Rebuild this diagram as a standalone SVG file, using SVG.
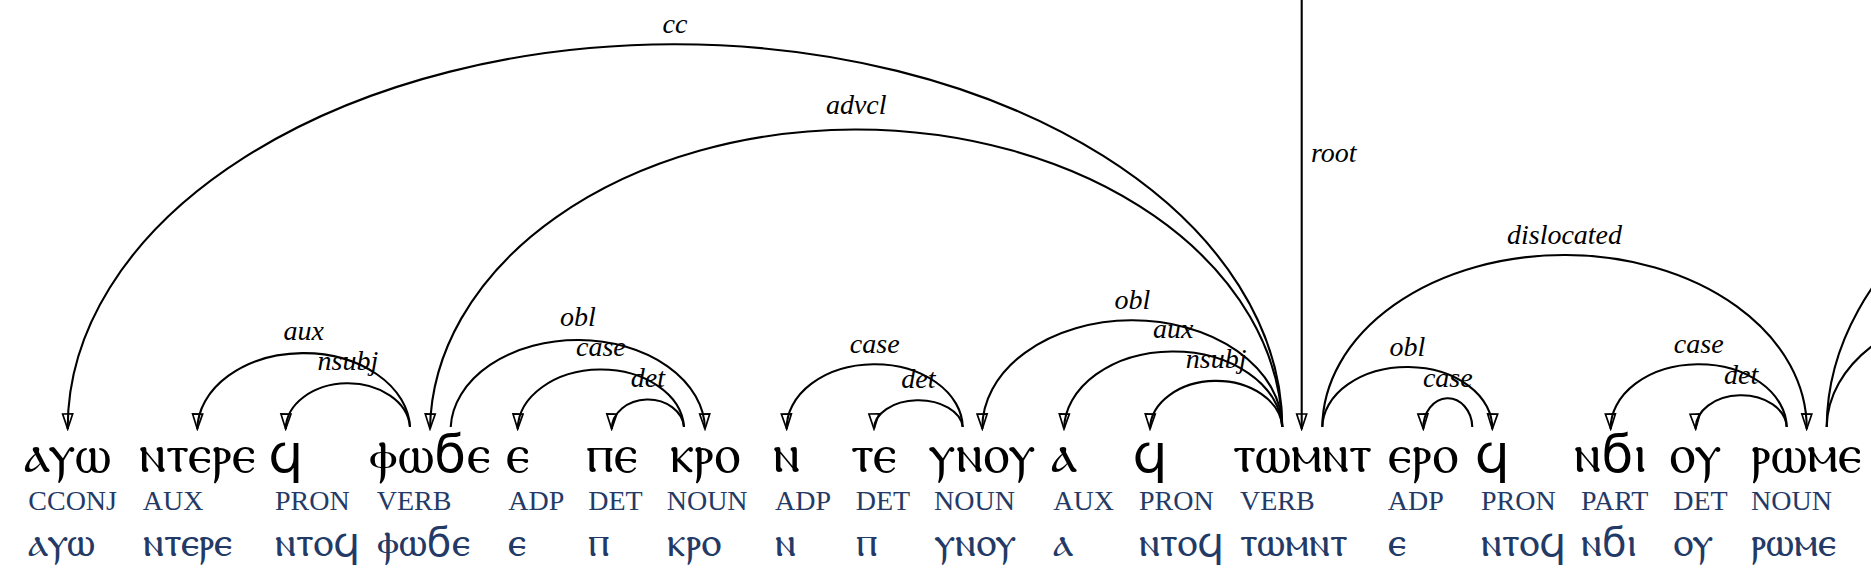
<svg xmlns="http://www.w3.org/2000/svg" width="1871" height="584" viewBox="0 0 1871 584">
<style>
.word{font-family:"DejaVu Sans","Noto Sans",sans-serif;font-size:53px;fill:#000;text-anchor:middle}
.pos{font-family:"Liberation Serif",serif;font-size:28px;fill:#243a66}
.lemma{font-family:"DejaVu Sans","Noto Sans",sans-serif;font-size:41px;fill:#243a66}
.arc{fill:none;stroke:#000;stroke-width:2.1;marker-end:url(#ah)}
.lbl{font-family:"Liberation Serif",serif;font-style:italic;font-size:28px;fill:#000;text-anchor:middle}
</style>
<defs>
<marker id="ah" markerUnits="userSpaceOnUse" viewBox="-17 -8 19 16" refX="0" refY="0" markerWidth="19" markerHeight="16" orient="auto">
<path d="M-15,-5 L0,0 L-15,5 Z" fill="none" stroke="#000" stroke-width="1.7" stroke-linejoin="miter"/>
</marker>
</defs>
<rect width="1871" height="584" fill="#fff"/>
<g id="connectors">
<g id="e-cc"><path class="arc" d="M1282.3 427 A607.3 383.7 0 0 0 67.7 429"/><text class="lbl" x="675" y="33">cc</text></g>
<g id="e-advcl"><path class="arc" d="M1282.3 427 A426.2 303 0 0 0 430 429"/><text class="lbl" x="856.2" y="113.5">advcl</text></g>
<g id="e-aux1"><path class="arc" d="M410 427 A106.4 77 0 0 0 197.3 429"/><text class="lbl" x="303.7" y="339.5">aux</text></g>
<g id="e-nsubj1"><path class="arc" d="M410 427 A62.2 46.3 0 0 0 285.7 429"/><text class="lbl" x="347.9" y="370">nsubj</text></g>
<g id="e-obl1"><path class="arc" d="M450.7 427 A127.2 90.3 0 0 1 705 429"/><text class="lbl" x="577.9" y="326">obl</text></g>
<g id="e-case1"><path class="arc" d="M684 427 A83.2 60.3 0 0 0 517.7 429"/><text class="lbl" x="600.9" y="356">case</text></g>
<g id="e-det1"><path class="arc" d="M684 427 A36.2 29.7 0 0 0 611.7 429"/><text class="lbl" x="647.9" y="386.8">det</text></g>
<g id="e-case2"><path class="arc" d="M962.7 427 A88 63.7 0 0 0 786.7 429"/><text class="lbl" x="874.7" y="352.8">case</text></g>
<g id="e-det2"><path class="arc" d="M962.7 427 A44.4 28.7 0 0 0 874 429"/><text class="lbl" x="918.4" y="387.8">det</text></g>
<g id="e-obl2"><path class="arc" d="M1282.3 427 A150 107.7 0 0 0 982.3 429"/><text class="lbl" x="1132.3" y="308.8">obl</text></g>
<g id="e-aux2"><path class="arc" d="M1282.3 427 A109.2 78.7 0 0 0 1064 429"/><text class="lbl" x="1173.2" y="337.8">aux</text></g>
<g id="e-nsubj2"><path class="arc" d="M1282.3 427 A66.2 48.7 0 0 0 1150 429"/><text class="lbl" x="1216.2" y="367.8">nsubj</text></g>
<g id="e-root"><path class="arc" d="M1301.7 0 L1301.7 429"/><text class="lbl" x="1311" y="162" style="text-anchor:start">root</text></g>
<g id="e-dislocated"><path class="arc" d="M1322.3 427 A242.2 173 0 0 1 1806.7 429"/><text class="lbl" x="1564.5" y="243.5">dislocated</text></g>
<g id="e-obl3"><path class="arc" d="M1322.3 427 A85 61 0 0 1 1492.3 429"/><text class="lbl" x="1407.3" y="355.5">obl</text></g>
<g id="e-case3"><path class="arc" d="M1472.3 427 A24.5 29.7 0 0 0 1423.3 429"/><text class="lbl" x="1447.8" y="386.8">case</text></g>
<g id="e-case4"><path class="arc" d="M1786.7 427 A88 63.7 0 0 0 1610.7 429"/><text class="lbl" x="1698.7" y="352.8">case</text></g>
<g id="e-det3"><path class="arc" d="M1786.7 427 A45.5 32.7 0 0 0 1695.7 429"/><text class="lbl" x="1741.2" y="383.8">det</text></g>
<g id="e-out1"><path class="arc" d="M1826.7 427 A440 317 0 0 1 2706.7 429"/></g>
<g id="e-out2"><path class="arc" d="M1826.7 427 A165 119 0 0 1 2156.7 429"/></g>
</g>
<g id="t1"><text class="word" x="67.7" y="472">ⲁⲩⲱ</text><text class="pos" x="28.3" y="510">CCONJ</text><text class="lemma" x="28.3" y="556">ⲁⲩⲱ</text></g>
<g id="t2"><text class="word" x="197.3" y="472">ⲛⲧⲉⲣⲉ</text><text class="pos" x="142.7" y="510">AUX</text><text class="lemma" x="142.7" y="556">ⲛⲧⲉⲣⲉ</text></g>
<g id="t3"><text class="word" x="285.7" y="472">ϥ</text><text class="pos" x="275" y="510">PRON</text><text class="lemma" x="275" y="556">ⲛⲧⲟϥ</text></g>
<g id="t4"><text class="word" x="430" y="472">ⲫⲱϭⲉ</text><text class="pos" x="376.7" y="510">VERB</text><text class="lemma" x="376.7" y="556">ⲫⲱϭⲉ</text></g>
<g id="t5"><text class="word" x="517.7" y="472">ⲉ</text><text class="pos" x="508.3" y="510">ADP</text><text class="lemma" x="508.3" y="556">ⲉ</text></g>
<g id="t6"><text class="word" x="611.7" y="472">ⲡⲉ</text><text class="pos" x="588.3" y="510">DET</text><text class="lemma" x="588.3" y="556">ⲡ</text></g>
<g id="t7"><text class="word" x="705" y="472">ⲕⲣⲟ</text><text class="pos" x="666.7" y="510">NOUN</text><text class="lemma" x="666.7" y="556">ⲕⲣⲟ</text></g>
<g id="t8"><text class="word" x="786.7" y="472">ⲛ</text><text class="pos" x="775" y="510">ADP</text><text class="lemma" x="775" y="556">ⲛ</text></g>
<g id="t9"><text class="word" x="874" y="472">ⲧⲉ</text><text class="pos" x="855.7" y="510">DET</text><text class="lemma" x="855.7" y="556">ⲡ</text></g>
<g id="t10"><text class="word" x="982.3" y="472">ⲩⲛⲟⲩ</text><text class="pos" x="934" y="510">NOUN</text><text class="lemma" x="934" y="556">ⲩⲛⲟⲩ</text></g>
<g id="t11"><text class="word" x="1064" y="472">ⲁ</text><text class="pos" x="1053.3" y="510">AUX</text><text class="lemma" x="1053.3" y="556">ⲁ</text></g>
<g id="t12"><text class="word" x="1150" y="472">ϥ</text><text class="pos" x="1139" y="510">PRON</text><text class="lemma" x="1139" y="556">ⲛⲧⲟϥ</text></g>
<g id="t13"><text class="word" x="1302" y="472">ⲧⲱⲙⲛⲧ</text><text class="pos" x="1240" y="510">VERB</text><text class="lemma" x="1240" y="556">ⲧⲱⲙⲛⲧ</text></g>
<g id="t14"><text class="word" x="1423.3" y="472">ⲉⲣⲟ</text><text class="pos" x="1387.7" y="510">ADP</text><text class="lemma" x="1387.7" y="556">ⲉ</text></g>
<g id="t15"><text class="word" x="1492.3" y="472">ϥ</text><text class="pos" x="1481" y="510">PRON</text><text class="lemma" x="1481" y="556">ⲛⲧⲟϥ</text></g>
<g id="t16"><text class="word" x="1610.7" y="472">ⲛϭⲓ</text><text class="pos" x="1581" y="510">PART</text><text class="lemma" x="1581" y="556">ⲛϭⲓ</text></g>
<g id="t17"><text class="word" x="1695.7" y="472">ⲟⲩ</text><text class="pos" x="1673.3" y="510">DET</text><text class="lemma" x="1673.3" y="556">ⲟⲩ</text></g>
<g id="t18"><text class="word" x="1806.7" y="472">ⲣⲱⲙⲉ</text><text class="pos" x="1751" y="510">NOUN</text><text class="lemma" x="1751" y="556">ⲣⲱⲙⲉ</text></g>
</svg>
